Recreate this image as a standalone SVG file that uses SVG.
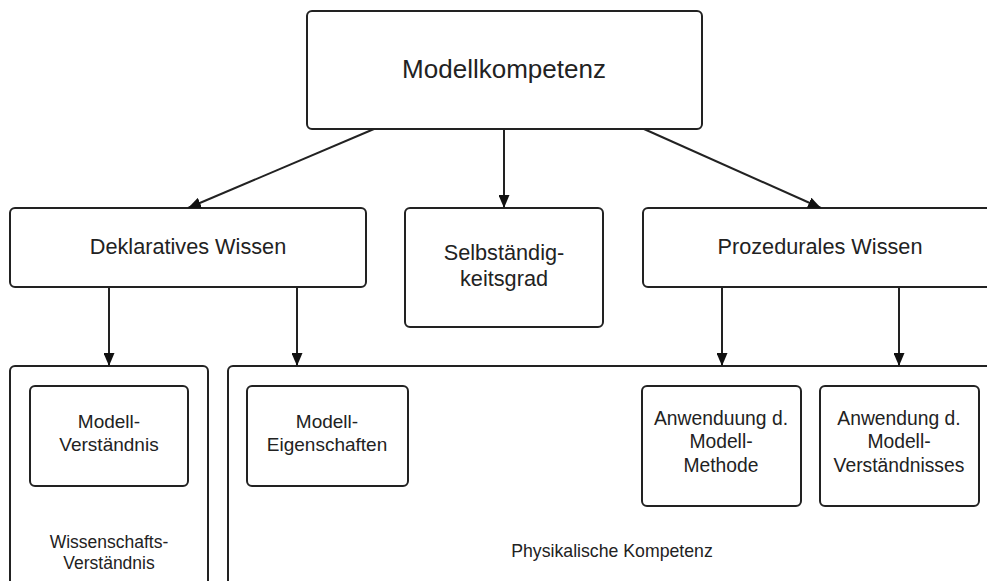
<svg xmlns="http://www.w3.org/2000/svg" width="987" height="581" viewBox="0 0 987 581">
<style>
.box{fill:#fff;stroke:#222;stroke-width:2}
.t{font-family:"Liberation Sans",Arial,sans-serif;fill:#222;text-anchor:middle}
.c{stroke:#222;stroke-width:2;fill:none;marker-end:url(#ah)}
</style>
<defs>
<marker id="ah" viewBox="0 0 13 11" refX="13" refY="5.5" markerWidth="13" markerHeight="11" markerUnits="userSpaceOnUse" orient="auto">
<path d="M0,0 L13,5.5 L0,11 z" fill="#111"/>
</marker>
</defs>
<rect width="987" height="581" fill="#fff"/>
<g id="physikalische-kompetenz">
<rect class="box" x="228" y="366" width="790" height="260" rx="5"/>
<text class="t" x="612" y="557" font-size="17.7">Physikalische Kompetenz</text>
</g>
<g id="wissenschafts-verstaendnis">
<rect class="box" x="10" y="366" width="198" height="260" rx="5"/>
<text class="t" x="109" y="548" font-size="17.5">Wissenschafts-</text>
<text class="t" x="109" y="569" font-size="17.5">Verständnis</text>
</g>
<g id="modellkompetenz">
<rect class="box" x="307" y="11" width="395" height="118" rx="5"/>
<text class="t" x="504" y="78" font-size="26">Modellkompetenz</text>
</g>
<g id="deklaratives-wissen">
<rect class="box" x="10" y="208" width="356" height="79" rx="5"/>
<text class="t" x="188" y="254" font-size="21.7">Deklaratives Wissen</text>
</g>
<g id="selbstaendigkeitsgrad">
<rect class="box" x="405" y="208" width="198" height="119" rx="5"/>
<text class="t" x="504" y="260" font-size="21.7">Selbständig-</text>
<text class="t" x="504" y="286" font-size="21.7">keitsgrad</text>
</g>
<g id="prozedurales-wissen">
<rect class="box" x="643" y="208" width="360" height="79" rx="5"/>
<text class="t" x="820" y="254" font-size="21.7">Prozedurales Wissen</text>
</g>
<g id="modell-verstaendnis">
<rect class="box" x="30" y="386" width="158" height="100" rx="5"/>
<text class="t" x="109" y="428" font-size="19">Modell-</text>
<text class="t" x="109" y="451" font-size="19">Verständnis</text>
</g>
<g id="modell-eigenschaften">
<rect class="box" x="247" y="386" width="161" height="100" rx="5"/>
<text class="t" x="327" y="428" font-size="19">Modell-</text>
<text class="t" x="327" y="451" font-size="19">Eigenschaften</text>
</g>
<g id="anwenduung-modell-methode">
<rect class="box" x="642" y="386" width="159" height="120" rx="5"/>
<text class="t" x="721" y="425" font-size="19.3">Anwenduung d.</text>
<text class="t" x="721" y="448" font-size="19.3">Modell-</text>
<text class="t" x="721" y="472" font-size="19.3">Methode</text>
</g>
<g id="anwendung-modell-verstaendnisses">
<rect class="box" x="820" y="386" width="159" height="120" rx="5"/>
<text class="t" x="899" y="425" font-size="19.3">Anwendung d.</text>
<text class="t" x="899" y="448" font-size="19.3">Modell-</text>
<text class="t" x="899" y="472" font-size="19.3">Verständnisses</text>
</g>
<g id="connectors">
<line class="c" x1="374" y1="129" x2="188" y2="208"/>
<line class="c" x1="504" y1="129" x2="504" y2="208"/>
<line class="c" x1="644" y1="129" x2="821" y2="208"/>
<line class="c" x1="109" y1="287" x2="109" y2="366"/>
<line class="c" x1="297" y1="287" x2="297" y2="366"/>
<line class="c" x1="722" y1="287" x2="722" y2="366"/>
<line class="c" x1="899" y1="287" x2="899" y2="366"/>
</g>
</svg>
